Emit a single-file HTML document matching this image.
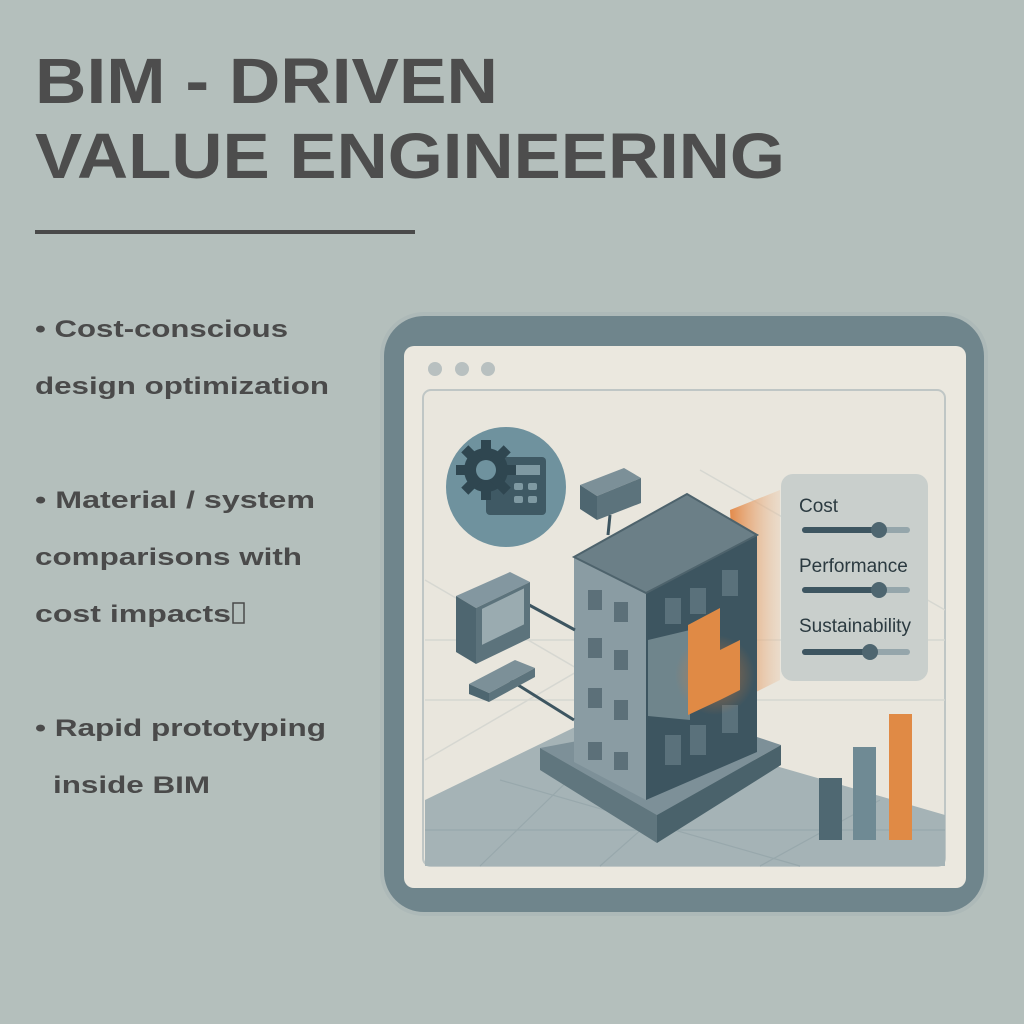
<!DOCTYPE html>
<html><head><meta charset="utf-8"><style>
html,body{margin:0;padding:0;background:#b4bfbc;}
svg{display:block}
text{font-family:"Liberation Sans",Arial,sans-serif;}
</style></head><body>
<svg width="1024" height="1024" viewBox="0 0 1024 1024" xmlns="http://www.w3.org/2000/svg">
<defs>
<radialGradient id="glow" cx="0.5" cy="0.5" r="0.5"><stop offset="0" stop-color="#e07a30" stop-opacity="0.9"/><stop offset="1" stop-color="#e07a30" stop-opacity="0"/></radialGradient>
<linearGradient id="og" x1="0" y1="0" x2="1" y2="0"><stop offset="0" stop-color="#e38a4a"/><stop offset="1" stop-color="#ebc3a0" stop-opacity="0.3"/></linearGradient>
</defs>
<rect width="1024" height="1024" fill="#b4bfbc"/>
<g fill="#4d4d4d" font-weight="bold">
<text x="35" y="103" font-size="64" textLength="463" lengthAdjust="spacingAndGlyphs">BIM - DRIVEN</text>
<text x="35" y="178" font-size="64" textLength="750" lengthAdjust="spacingAndGlyphs">VALUE ENGINEERING</text>
</g>
<rect x="35" y="230" width="380" height="4" fill="#4a4a4a"/>
<g fill="#4a4a4a" font-weight="bold" font-size="24">
<text x="35" y="337" textLength="253" lengthAdjust="spacingAndGlyphs">• Cost-conscious</text>
<text x="35" y="394" textLength="294" lengthAdjust="spacingAndGlyphs">design optimization</text>
<text x="35" y="508" textLength="280" lengthAdjust="spacingAndGlyphs">• Material / system</text>
<text x="35" y="565" textLength="267" lengthAdjust="spacingAndGlyphs">comparisons with</text>
<text x="35" y="622" textLength="196" lengthAdjust="spacingAndGlyphs">cost impacts</text>
<text x="35" y="736" textLength="291" lengthAdjust="spacingAndGlyphs">• Rapid prototyping</text>
<text x="53" y="793" textLength="157" lengthAdjust="spacingAndGlyphs">inside BIM</text>
</g>
<rect x="233" y="603" width="11" height="20" fill="none" stroke="#4a4a4a" stroke-width="1.5"/>
<!-- frame -->
<rect x="380" y="312" width="608" height="604" rx="44" fill="#a9b6b6" opacity="0.6"/>
<rect x="384" y="316" width="600" height="596" rx="40" fill="#6f858c"/>
<rect x="404" y="346" width="562" height="542" rx="10" fill="#ebe8df"/>
<circle cx="435" cy="369" r="7" fill="#b8c0c0"/><circle cx="462" cy="369" r="7" fill="#b8c0c0"/><circle cx="488" cy="369" r="7" fill="#b8c0c0"/>
<rect x="423" y="390" width="522" height="476" rx="8" fill="#e9e6dd" stroke="#bfc6c5" stroke-width="2"/>
<!-- grid lines -->
<g stroke="#d6d7d1" stroke-width="1.5">
<line x1="425" y1="640" x2="945" y2="640"/><line x1="425" y1="700" x2="945" y2="700"/>
<line x1="425" y1="580" x2="700" y2="740"/><line x1="700" y1="470" x2="945" y2="610"/>
<line x1="425" y1="760" x2="700" y2="600"/>
</g>
<!-- floor -->
<polygon points="425,800 600,715 945,815 945,866 425,866" fill="#a5b3b6"/>
<g stroke="#98a8ac" stroke-width="1.2">
<line x1="425" y1="830" x2="945" y2="830"/><line x1="480" y1="866" x2="620" y2="730"/><line x1="600" y1="866" x2="720" y2="760"/>
<line x1="760" y1="866" x2="880" y2="800"/><line x1="500" y1="780" x2="800" y2="866"/>
</g>
<!-- orange glow band -->
<polygon points="730,510 780,490 780,680 740,700" fill="url(#og)"/>
<!-- base -->
<polygon points="540,748 700,718 781,745 657,815" fill="#7d9098"/>
<polygon points="540,748 657,815 657,843 540,770" fill="#60767e"/>
<polygon points="657,815 781,745 781,765 657,843" fill="#4a626b"/>
<!-- building -->
<polygon points="574,557 646,593 646,800 574,762" fill="#8a9ca3"/>
<polygon points="646,593 757,535 757,752 646,800" fill="#3d5560"/>
<polygon points="574,557 687,494 757,535 646,593" fill="#6b7f87" stroke="#4e636c" stroke-width="2"/>
<g fill="#5c7079">
<rect x="588" y="590" width="14" height="20"/><rect x="614" y="602" width="14" height="20"/>
<rect x="588" y="638" width="14" height="20"/><rect x="614" y="650" width="14" height="20"/>
<rect x="588" y="688" width="14" height="20"/><rect x="614" y="700" width="14" height="20"/>
<rect x="588" y="742" width="14" height="18"/><rect x="614" y="752" width="14" height="18"/>
</g>
<g fill="#5a717b">
<rect x="665" y="598" width="16" height="26"/><rect x="690" y="588" width="16" height="26"/><rect x="722" y="570" width="16" height="26"/>
<rect x="665" y="735" width="16" height="30"/><rect x="690" y="725" width="16" height="30"/><rect x="722" y="705" width="16" height="28"/>
</g>
<polygon points="648,640 690,630 690,720 648,716" fill="#6f858c"/>
<circle cx="715" cy="675" r="40" fill="url(#glow)" opacity="0.7"/>
<polygon points="688,625 720,608 720,700 688,715" fill="#e08a45"/>
<polygon points="720,650 740,640 740,690 720,700" fill="#e08a45"/>
<!-- icon circle -->
<circle cx="506" cy="487" r="60" fill="#6f929e"/>
<rect x="486" y="457" width="60" height="58" rx="4" fill="#3f5964"/>
<rect x="510" y="465" width="30" height="10" fill="#7f99a2"/>
<g fill="#7f99a2"><rect x="514" y="483" width="9" height="7" rx="2"/><rect x="528" y="483" width="9" height="7" rx="2"/><rect x="514" y="496" width="9" height="7" rx="2"/><rect x="528" y="496" width="9" height="7" rx="2"/></g>
<g fill="#2f4650"><circle cx="486" cy="470" r="22"/>
<g transform="translate(486 470)"><rect x="-5" y="-30" width="10" height="60"/><rect x="-30" y="-5" width="60" height="10"/><rect x="-5" y="-30" width="10" height="60" transform="rotate(45)"/><rect x="-5" y="-30" width="10" height="60" transform="rotate(-45)"/></g></g>
<circle cx="486" cy="470" r="10" fill="#6f929e"/>
<!-- side widgets -->
<line x1="520" y1="600" x2="575" y2="630" stroke="#3d5560" stroke-width="3"/>
<line x1="510" y1="680" x2="574" y2="720" stroke="#3d5560" stroke-width="3"/>
<line x1="610" y1="515" x2="608" y2="535" stroke="#3d5560" stroke-width="3"/>
<polygon points="456,596 510,572 530,582 476,608" fill="#8397a0"/>
<polygon points="456,596 476,608 476,664 456,652" fill="#4e6670"/>
<polygon points="476,608 530,582 530,638 476,664" fill="#5c737c"/>
<rect x="482" y="604" width="42" height="36" fill="#9aabb0" transform="skewY(-26) translate(0 240)"/>
<polygon points="469,684 515,660 535,668 489,693" fill="#7c9098"/>
<polygon points="469,684 489,693 489,702 469,694" fill="#4e6670"/>
<polygon points="489,693 535,668 535,677 489,702" fill="#5c737c"/>
<polygon points="580,485 624,468 641,478 597,496" fill="#7c9098"/>
<polygon points="580,485 597,496 597,520 580,509" fill="#4e6670"/>
<polygon points="597,496 641,478 641,503 597,520" fill="#5c737c"/>
<!-- sliders panel -->
<rect x="781" y="474" width="147" height="207" rx="12" fill="#c9cfcc"/>
<g fill="#2b3a40" font-size="19">
<text x="799" y="512">Cost</text><text x="799" y="572">Performance</text><text x="799" y="632">Sustainability</text>
</g>
<g stroke-linecap="round">
<line x1="805" y1="530" x2="907" y2="530" stroke="#95a6ab" stroke-width="6"/><line x1="805" y1="530" x2="879" y2="530" stroke="#3d5560" stroke-width="6"/>
<line x1="805" y1="590" x2="907" y2="590" stroke="#95a6ab" stroke-width="6"/><line x1="805" y1="590" x2="879" y2="590" stroke="#3d5560" stroke-width="6"/>
<line x1="805" y1="652" x2="907" y2="652" stroke="#95a6ab" stroke-width="6"/><line x1="805" y1="652" x2="870" y2="652" stroke="#3d5560" stroke-width="6"/>
</g>
<circle cx="879" cy="530" r="8" fill="#4e6670"/><circle cx="879" cy="590" r="8" fill="#4e6670"/><circle cx="870" cy="652" r="8" fill="#4e6670"/>
<!-- bars -->
<rect x="819" y="778" width="23" height="62" fill="#4f6872"/>
<rect x="853" y="747" width="23" height="93" fill="#6f8a94"/>
<rect x="889" y="714" width="23" height="126" fill="#e08a45"/>
</svg>
</body></html>
